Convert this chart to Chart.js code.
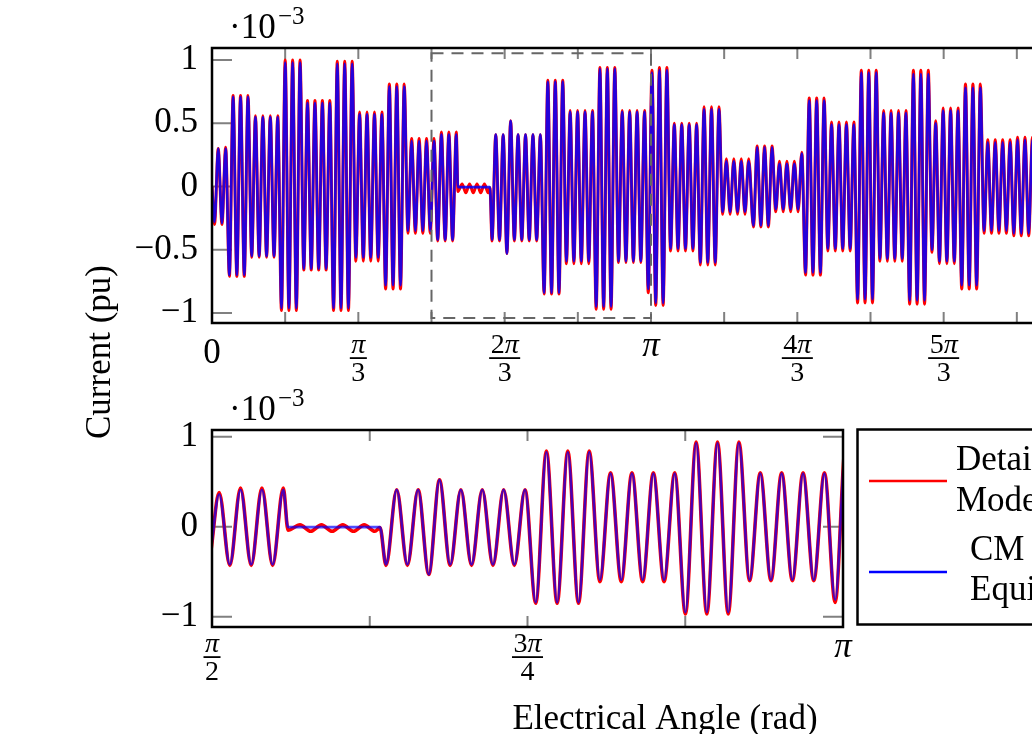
<!DOCTYPE html>
<html>
<head>
<meta charset="utf-8">
<script src="https://cdn.jsdelivr.net/npm/chart.js@4.4.1/dist/chart.umd.min.js"></script>
<style>
  html, body { margin: 0; padding: 0; background: #fff; overflow: hidden; }
  #wrap { position: relative; width: 1032px; height: 734px; overflow: hidden; }
  canvas { position: absolute; left: 0; top: 0; }
</style>
</head>
<body>
<div id="wrap">
  <canvas id="fullChart" width="1100" height="734"></canvas>
  <canvas id="zoomChart" width="1100" height="734"></canvas>
</div>
<script>
const PI = Math.PI;
const STEP = 0.02662; // half a carrier period (rad)

// current extrema (x1e-3 pu), trough / peak alternating, one list per run
// a run starts at the angle in the matching *Start array
const cmStart = [0, 0.018, 1.760, 1.989, 2.004, 3.8747];
const cmRuns = [
  [0],
  [-0.28, 0.30, -0.29, 0.30,
   -0.70, 0.71, -0.70, 0.71, -0.70, 0.71,
   -0.55, 0.55, -0.55, 0.55, -0.55, 0.55, -0.55, 0.55,
   -0.96, 0.98, -0.96, 0.98, -0.96, 0.98,
   -0.65, 0.66, -0.65, 0.66, -0.65, 0.66, -0.65, 0.66,
   -0.96, 0.97, -0.96, 0.97, -0.96, 0.97,
   -0.56, 0.57, -0.56, 0.57, -0.56, 0.57, -0.56, 0.57,
   -0.78, 0.79, -0.78, 0.79, -0.78, 0.79,
   -0.35, 0.36, -0.35, 0.36, -0.35, 0.36, -0.35, 0.36,
   -0.42, 0.41, -0.42, 0.41, -0.42, 0.41],
  [-0.005],
  [-0.005],
  [-0.42, 0.41, -0.42, 0.41,
   -0.53, 0.52,
   -0.42, 0.41, -0.42, 0.41, -0.42, 0.41, -0.42, 0.41,
   -0.84, 0.83, -0.84, 0.83, -0.84, 0.83,
   -0.59, 0.59, -0.59, 0.59, -0.59, 0.59, -0.59, 0.59,
   -0.95, 0.93, -0.95, 0.93, -0.95, 0.93,
   -0.59, 0.59, -0.59, 0.59, -0.59, 0.59, -0.59, 0.59,
   -0.81, 0.90, -0.92, 0.92, -0.92, 0.92,
   -0.49, 0.49, -0.49, 0.49, -0.49, 0.49, -0.49, 0.49,
   -0.60, 0.61, -0.60, 0.61, -0.60, 0.61,
   -0.20, 0.20, -0.20, 0.20, -0.20, 0.20, -0.20, 0.20],
  [-0.31, 0.31, -0.31, 0.31, -0.31, 0.31,
   -0.18, 0.18, -0.18, 0.18, -0.18, 0.18, -0.18, 0.26,
   -0.68, 0.68, -0.68, 0.68, -0.68, 0.68,
   -0.49, 0.49, -0.49, 0.49, -0.49, 0.49, -0.49, 0.49,
   -0.89, 0.90, -0.89, 0.90, -0.89, 0.90,
   -0.57, 0.58, -0.57, 0.58, -0.57, 0.58, -0.57, 0.58,
   -0.90, 0.89, -0.90, 0.89, -0.90, 0.89,
   -0.50, 0.50,
   -0.59, 0.60, -0.59, 0.60, -0.59, 0.60,
   -0.78, 0.78, -0.78, 0.78, -0.78, 0.78,
   -0.35, 0.35, -0.35, 0.35, -0.35, 0.35, -0.35, 0.35,
   -0.37, 0.37, -0.37, 0.37, -0.37, 0.37,
   -0.29, 0.29, -0.29, 0.29, -0.29, 0.29, -0.29, 0.29,
   -0.29, 0.29, -0.29, 0.29, -0.29, 0.29, -0.29, 0.29]
];

const detStart = [0, 0.018, 1.760, 1.7899, 1.989, 2.004, 3.8747];
const detRuns = [
  [0],
  [-0.30, 0.30, -0.30, 0.31,
   -0.71, 0.72, -0.71, 0.72, -0.71, 0.72,
   -0.56, 0.56, -0.56, 0.56, -0.56, 0.56, -0.56, 0.56,
   -0.98, 1.00, -0.98, 1.00, -0.98, 1.00,
   -0.66, 0.68, -0.66, 0.68, -0.66, 0.68, -0.66, 0.68,
   -0.98, 0.99, -0.98, 0.99, -0.98, 0.99,
   -0.59, 0.59, -0.59, 0.59, -0.59, 0.59, -0.59, 0.59,
   -0.81, 0.81, -0.81, 0.81, -0.81, 0.81,
   -0.37, 0.38, -0.37, 0.38, -0.37, 0.38, -0.37, 0.38,
   -0.43, 0.43, -0.43, 0.43, -0.43, 0.43],
  [-0.04],
  [0.02, -0.05, 0.02, -0.05, 0.02, -0.05, 0.02, -0.05],
  [-0.01],
  [-0.43, 0.41, -0.43, 0.41,
   -0.53, 0.52,
   -0.43, 0.41, -0.43, 0.41, -0.43, 0.41, -0.43, 0.41,
   -0.85, 0.84, -0.85, 0.84, -0.85, 0.84,
   -0.61, 0.60, -0.61, 0.60, -0.61, 0.60, -0.61, 0.60,
   -0.97, 0.94, -0.97, 0.94, -0.97, 0.94,
   -0.60, 0.60, -0.60, 0.60, -0.60, 0.60, -0.60, 0.60,
   -0.84, 0.92, -0.94, 0.94, -0.94, 0.94,
   -0.51, 0.50, -0.51, 0.50, -0.51, 0.50, -0.51, 0.50,
   -0.62, 0.63, -0.62, 0.63, -0.62, 0.63,
   -0.22, 0.22, -0.22, 0.22, -0.22, 0.22, -0.22, 0.22],
  [-0.32, 0.32, -0.32, 0.32, -0.32, 0.32,
   -0.20, 0.20, -0.20, 0.20, -0.20, 0.20, -0.20, 0.27,
   -0.70, 0.70, -0.70, 0.70, -0.70, 0.70,
   -0.51, 0.51, -0.51, 0.51, -0.51, 0.51, -0.51, 0.51,
   -0.92, 0.92, -0.92, 0.92, -0.92, 0.92,
   -0.59, 0.60, -0.59, 0.60, -0.59, 0.60, -0.59, 0.60,
   -0.93, 0.92, -0.93, 0.92, -0.93, 0.92,
   -0.52, 0.52,
   -0.61, 0.62, -0.61, 0.62, -0.61, 0.62,
   -0.81, 0.81, -0.81, 0.81, -0.81, 0.81,
   -0.37, 0.37, -0.37, 0.37, -0.37, 0.37, -0.37, 0.37,
   -0.39, 0.39, -0.39, 0.39, -0.39, 0.39,
   -0.30, 0.30, -0.30, 0.30, -0.30, 0.30, -0.30, 0.30,
   -0.30, 0.30, -0.30, 0.30, -0.30, 0.30, -0.30, 0.30]
];

const legendNames = [['Detailed', 'Model'], ['CM', 'Equivalent']];

// axes
const fullYTicks = [-1, -0.5, 0, 0.5, 1];
const fullYLabels = ['\u22121', '\u22120.5', '0', '0.5', '1'];
const fullXTicks = [0, 1, 2, 3, 4, 5, 6, 7, 8, 9, 10, 11, 12].map(k => k * PI / 6);
const fullXLabels = [
  { v: 0, num: '0', den: '' }, { v: PI / 3, num: 'π', den: '3' },
  { v: 2 * PI / 3, num: '2π', den: '3' }, { v: PI, num: 'π', den: '' },
  { v: 4 * PI / 3, num: '4π', den: '3' }, { v: 5 * PI / 3, num: '5π', den: '3' }
];
const zoomYTicks = [-1, 0, 1];
const zoomYLabels = ['\u22121', '0', '1'];
const zoomXTicks = [4, 5, 6, 7, 8].map(k => k * PI / 8);
const zoomXLabels = [
  { v: PI / 2, num: 'π', den: '2' }, { v: 3 * PI / 4, num: '3π', den: '4' }, { v: PI, num: 'π', den: '' }
];

function series(starts, runs) {
  const pts = [];
  runs.forEach((vals, r) => vals.forEach((v, k) => pts.push({ x: starts[r] + k * STEP, y: v })));
  return pts;
}
const detailed = series(detStart, detRuns);
const cmEquiv = series(cmStart, cmRuns);

const SERIF = '"Liberation Serif", "Times New Roman", serif';

function mathText(ctx, s, cx, by, size, align) {
  const parts = [...s].map(ch => ({ ch, f: (ch === 'π' ? 'italic ' : '') + size + 'px ' + SERIF }));
  let w = 0;
  parts.forEach(p => { ctx.font = p.f; p.w = ctx.measureText(p.ch).width; w += p.w; });
  let px = align === 'left' ? cx : cx - w / 2;
  ctx.textAlign = 'left';
  parts.forEach(p => { ctx.font = p.f; ctx.fillText(p.ch, px, by); px += p.w; });
  return w;
}

const frame = {
  id: 'frame',
  beforeDatasetsDraw(chart, args, o) {
    const { ctx, chartArea: a, scales: { x, y } } = chart;
    ctx.save();
    ctx.strokeStyle = '#808080';
    ctx.lineWidth = 2;
    ctx.beginPath();
    o.xTicks.forEach(v => {
      const px = x.getPixelForValue(v);
      ctx.moveTo(px, a.top); ctx.lineTo(px, a.top + 11);
      ctx.moveTo(px, a.bottom); ctx.lineTo(px, a.bottom - 11);
    });
    o.yTicks.forEach(v => {
      const py = y.getPixelForValue(v);
      ctx.moveTo(a.left, py); ctx.lineTo(a.left + 20, py);
      ctx.moveTo(a.right, py); ctx.lineTo(a.right - 20, py);
    });
    ctx.stroke();
    ctx.restore();
  },
  afterDatasetsDraw(chart, args, o) {
    const { ctx, chartArea: a, scales: { x, y } } = chart;
    ctx.save();
    if (o.box) {
      ctx.strokeStyle = '#666';
      ctx.lineWidth = 2;
      ctx.setLineDash([12, 8]);
      const x0 = x.getPixelForValue(o.box[0]), x1 = x.getPixelForValue(o.box[1]);
      const y0 = y.getPixelForValue(o.box[2]), y1 = y.getPixelForValue(o.box[3]);
      ctx.strokeRect(x0, y1, x1 - x0, y0 - y1);
      ctx.setLineDash([]);
    }
    ctx.strokeStyle = '#000';
    ctx.lineWidth = 2.5;
    ctx.strokeRect(a.left, a.top, a.right - a.left, a.bottom - a.top);

    // x tick labels
    ctx.fillStyle = '#000';
    ctx.textBaseline = 'alphabetic';
    o.xLabels.forEach(l => {
      const px = x.getPixelForValue(l.v);
      if (!l.den) {
        if (l.num === 'π') mathText(ctx, 'π', px, a.bottom + o.piBase, 35);
        else mathText(ctx, l.num, px, a.bottom + 40, 35);
        return;
      }
      const wn = mathText(ctx, l.num, px, a.bottom + o.numBase, 28);
      const wd = mathText(ctx, l.den, px, a.bottom + o.numBase + 28, 28);
      const w = Math.max(wn, wd) + 3;
      ctx.fillRect(px - w / 2, a.bottom + o.numBase + 4.2, w, 1.8);
    });

    // exponent
    mathText(ctx, '·10', a.left + 17, a.top - 10, 35, 'left');
    mathText(ctx, '\u22123', a.left + 66, a.top - 24, 25, 'left');

    if (o.yTitle) {
      ctx.save();
      ctx.translate(101, 352);
      ctx.rotate(-PI / 2);
      ctx.font = '35px ' + SERIF;
      ctx.textAlign = 'center';
      ctx.textBaseline = 'middle';
      ctx.fillText(o.yTitle, 0, 0);
      ctx.restore();
    }
    if (o.xTitle) {
      ctx.font = '35px ' + SERIF;
      ctx.textAlign = 'center';
      ctx.fillText(o.xTitle, 665, 729);
    }
    if (o.legend) {
      ctx.lineWidth = 2.5;
      ctx.strokeStyle = '#000';
      ctx.strokeRect(857.5, 429.5, 300, 195);
      const rows = [
        { y: 481, tx: 956, ty: [470, 511] },
        { y: 572, tx: 970, ty: [560, 600] }
      ];
      const cols = ['#ff0000', '#0000ff'];
      rows.forEach((r, i) => {
        ctx.strokeStyle = cols[i];
        ctx.lineWidth = 2.5;
        ctx.beginPath(); ctx.moveTo(869, r.y); ctx.lineTo(947, r.y); ctx.stroke();
        ctx.font = '35px ' + SERIF;
        ctx.textAlign = 'left';
        legendNames[i].forEach((t, j) => ctx.fillText(t, r.tx, r.ty[j]));
      });
    }
    ctx.restore();
  }
};

function makeChart(id, xr, yr, yTicks, yLabels, pad, lw, blue, frameOpts) {
  return new Chart(document.getElementById(id), {
    type: 'line',
    data: {
      datasets: [
        { label: 'CM Equivalent', data: cmEquiv, borderColor: blue, borderWidth: lw[1], order: 0 },
        { label: 'Detailed Model', data: detailed, borderColor: '#ff0000', borderWidth: lw[0], order: 1 }
      ]
    },
    options: {
      responsive: false,
      animation: false,
      events: [],
      layout: { padding: pad },
      elements: { point: { radius: 0 }, line: { cubicInterpolationMode: 'monotone', borderJoinStyle: 'round' } },
      plugins: { legend: { display: false }, tooltip: { enabled: false }, frame: frameOpts },
      scales: {
        x: {
          type: 'linear', min: xr[0], max: xr[1],
          grid: { display: false, drawTicks: false }, border: { display: false },
          ticks: { display: false },
          afterFit: s => { s.height = 0; }
        },
        y: {
          type: 'linear', min: yr[0], max: yr[1],
          grid: { display: false, drawTicks: false }, border: { display: false },
          afterBuildTicks: s => { s.ticks = yTicks.map(v => ({ value: v })); },
          ticks: {
            padding: 14, color: '#000',
            font: { family: SERIF, size: 35 },
            callback: v => yLabels[yTicks.indexOf(v)]
          },
          afterFit: s => { s.width = 212; }
        }
      }
    },
    plugins: [frame]
  });
}

makeChart('fullChart', [0, 2 * PI], [-1.079, 1.095], fullYTicks, fullYLabels,
  { left: 0, top: 48, right: 10, bottom: 411 }, [3, 2.6], 'rgba(0,0,255,0.85)',
  { xTicks: fullXTicks, yTicks: fullYTicks, xLabels: fullXLabels, box: [PI / 2, PI, -1.04, 1.053],
    numBase: 30, piBase: 33, yTitle: 'Current (pu)' });

makeChart('zoomChart', [PI / 2, PI], [-1.114, 1.074], zoomYTicks, zoomYLabels,
  { left: 0, top: 430, right: 257, bottom: 107 }, [3.6, 2.6], 'rgba(0,0,255,0.7)',
  { xTicks: zoomXTicks, yTicks: zoomYTicks, xLabels: zoomXLabels,
    numBase: 25, piBase: 30, xTitle: 'Electrical Angle (rad)', legend: true });
</script>
</body>
</html>
